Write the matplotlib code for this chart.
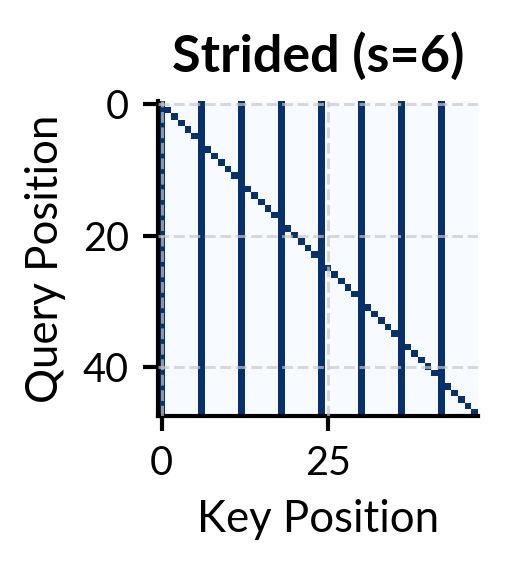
import numpy as np
import matplotlib.pyplot as plt

plt.rcParams['font.family'] = ['Lato', 'DejaVu Sans']

# dane: maska uwagi typu "strided"
seq_len = 48
stride = 6
title = 'Strided (s=6)'
x_ticks = [0, 25]
y_ticks = [0, 20, 40]

idx = np.arange(seq_len)
mask = ((idx[None, :] % stride) == 0) | (idx[:, None] == idx[None, :])
mask = mask.astype(float)

fig = plt.figure(figsize=(5.07 / 3, 5.74 / 3), dpi=300)
ax = fig.add_axes([0.312, 0.275, 0.631, 0.549])
ax.imshow(mask, cmap='Blues', vmin=0, vmax=1, interpolation='nearest', aspect='auto')

ax.set_xticks(x_ticks)
ax.set_yticks(y_ticks)
ax.tick_params(labelsize=9.5, width=1, length=3.5)
ax.set_xlabel('Key Position', fontsize=10.5)
ax.set_ylabel('Query Position', fontsize=10.5)
ax.set_title(title, fontsize=12.5, fontweight='bold', pad=7)

ax.grid(True, linestyle='--', linewidth=0.7, color='#c8c8c8', alpha=0.7)
ax.set_axisbelow(False)
for s in ['top', 'right']:
    ax.spines[s].set_visible(False)
for s in ['left', 'bottom']:
    ax.spines[s].set_linewidth(1)

fig.savefig('out.png', dpi=300)
